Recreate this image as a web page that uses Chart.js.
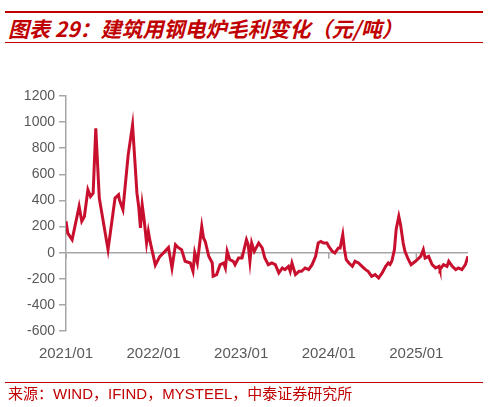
<!DOCTYPE html>
<html><head><meta charset="utf-8">
<script src="https://cdn.jsdelivr.net/npm/chart.js@4"></script>
<style>
html,body{margin:0;padding:0;background:#fff;}
body{width:496px;height:407px;position:relative;overflow:hidden;font-family:"Liberation Sans",Arial,sans-serif;}
.rule{position:absolute;left:5px;width:478px;background:#c00000;}
#title{position:absolute;left:8px;top:15px;font-family:"Noto Sans CJK SC",sans-serif;font-weight:bold;font-style:italic;font-size:21px;color:#c00000;white-space:nowrap;line-height:26px;}
#src{position:absolute;left:8px;top:384px;font-size:15px;color:#c00000;white-space:nowrap;line-height:18px;}
#src .cn{font-family:"Noto Sans CJK SC",sans-serif;}
#wrap{position:absolute;left:0;top:0;width:496px;height:407px;}
</style></head>
<body>
<div class="rule" style="top:11px;height:2px"></div>
<div id="title">图表 29：建筑用钢电炉毛利变化（元/吨）</div>
<div class="rule" style="top:42px;height:1px"></div>
<div id="wrap"><canvas id="c"></canvas></div>
<div class="rule" style="top:382px;height:1px"></div>
<div id="src"><span class="cn">来源：</span>WIND<span class="cn">，</span>IFIND<span class="cn">，</span>MYSTEEL<span class="cn">，中泰证券研究所</span></div>
<script>
// time positions in decimal years
const dates = [2021.00,2021.02,2021.07,2021.15,2021.18,2021.21,2021.25,2021.28,2021.31,2021.34,2021.38,2021.48,2021.56,2021.60,2021.61,2021.65,2021.71,2021.76,2021.81,2021.83,2021.85,2021.87,2021.89,2021.92,2021.94,2021.96,
2022.02,2022.07,2022.13,2022.17,2022.21,2022.25,2022.28,2022.32,2022.36,2022.42,2022.45,2022.47,2022.50,2022.55,2022.57,2022.59,2022.63,2022.67,2022.68,2022.72,2022.76,2022.80,2022.82,2022.84,2022.87,2022.91,2022.93,2022.97,
2023.01,2023.06,2023.08,2023.10,2023.12,2023.15,2023.20,2023.24,2023.27,2023.31,2023.35,2023.39,2023.43,2023.47,2023.50,2023.54,2023.56,2023.58,2023.62,2023.66,2023.69,2023.73,2023.77,2023.81,2023.85,2023.88,2023.91,2023.94,2023.98,
2024.00,2024.04,2024.07,2024.11,2024.13,2024.16,2024.18,2024.20,2024.23,2024.27,2024.30,2024.34,2024.38,2024.42,2024.45,2024.49,2024.53,2024.57,2024.61,2024.65,2024.68,2024.70,2024.72,2024.75,2024.77,2024.80,2024.82,2024.85,2024.87,2024.91,2024.94,2024.99,
2025.05,2025.08,2025.10,2025.14,2025.18,2025.22,2025.26,2025.27,2025.31,2025.35,2025.37,2025.41,2025.45,2025.48,2025.52,2025.56,2025.59];
// electric-furnace gross margin, yuan/ton
const margin = [240,150,100,354,240,277,482,430,456,953,418,23,418,443,405,329,749,978,456,354,189,367,265,74,163,86,
-95,-30,10,40,-117,61,40,23,-66,-79,-143,-2,-79,201,112,86,-28,-79,-181,-168,-92,-79,-117,10,-54,-66,-92,-41,
-41,99,61,-66,74,10,74,36,-41,-92,-79,-92,-155,-117,-130,-105,-143,-79,-168,-143,-143,-117,-130,-92,-28,74,86,74,74,
48,10,-2,36,36,138,23,-54,-79,-105,-66,-79,-105,-130,-143,-181,-168,-194,-155,-105,-79,-90,-66,23,180,278,214,74,10,-54,-92,-66,
-28,23,-41,-28,-92,-117,-105,-130,-92,-105,-66,-105,-130,-117,-130,-92,-28];
const yTicks = [-600,-400,-200,0,200,400,600,800,1000,1200];
const xTickYears = [2021,2022,2023,2024,2025];

const gray = '#a6a6a6';
const tickFont = {family:'"Liberation Sans", Arial, sans-serif', size:14};
const xMin = xTickYears[0], xMax = dates[dates.length-1];
const keepYears = s => { s.ticks = xTickYears.map(v => ({value:v})); };

// year tick marks hanging under the zero line
const zeroTicks = {
  id:'zeroTicks',
  beforeDatasetsDraw(chart){
    const {ctx, scales:{x2, y}} = chart;
    const y0 = y.getPixelForValue(0);
    ctx.save();
    ctx.strokeStyle = gray; ctx.lineWidth = 1.5;
    xTickYears.forEach(v=>{
      const px = x2.getPixelForValue(v);
      ctx.beginPath(); ctx.moveTo(px, y0); ctx.lineTo(px, y0+6); ctx.stroke();
    });
    ctx.restore();
  }
};

new Chart(document.getElementById('c'), {
  type:'line',
  data:{datasets:[{
    data: dates.map((d,i)=>({x:d,y:margin[i]})),
    xAxisID:'x2',
    borderColor:'#c8102e', borderWidth:3, pointRadius:0, tension:0, fill:false
  }]},
  options:{
    responsive:true, maintainAspectRatio:false, animation:false,
    layout:{padding:{top:96,right:28,left:0,bottom:46}},
    plugins:{legend:{display:false},tooltip:{enabled:false}},
    scales:{
      x2:{type:'linear',position:'bottom',min:xMin,max:xMax,
         afterBuildTicks:keepYears,
         afterFit:s=>{s.height=30;},
         ticks:{color:'#595959',font:{...tickFont,size:15},padding:14,maxRotation:0,autoSkip:false,
                callback:v=>v+'/01'},
         grid:{display:false,drawTicks:false},border:{display:false}},
      y:{min:-600,max:1200,
         afterBuildTicks:s=>{s.ticks = yTicks.map(v=>({value:v}));},
         afterFit:s=>{s.width=66;},
         ticks:{color:'#595959',font:tickFont,padding:4,callback:v=>String(v)},
         grid:{color:c=>c.tick && c.tick.value===0 ? gray : 'rgba(0,0,0,0)',lineWidth:1.5,tickLength:7,tickColor:gray},
         border:{display:true,color:gray,width:1.5}}
    }
  },
  plugins:[zeroTicks]
});
</script>
</body></html>
